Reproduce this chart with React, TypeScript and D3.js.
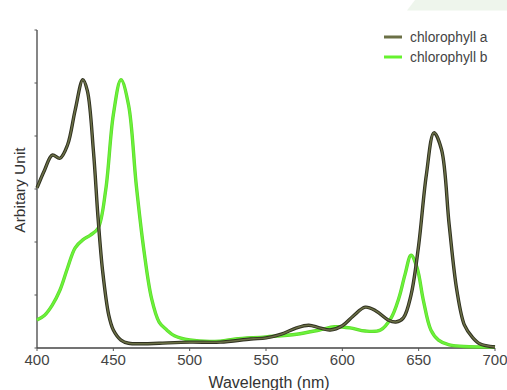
import React from "react";
import * as d3 from "d3";

const wavelengthsA = [400, 405, 410, 415, 420, 425, 430, 433, 437, 440, 443, 447, 450, 455, 460, 470, 480, 500, 520, 540, 550, 560, 570, 578, 585, 592, 600, 607, 615, 622, 630, 635, 640, 645, 650, 655, 660, 665, 670, 675, 680, 685, 690, 700];
const chlA = [3.02, 3.36, 3.64, 3.58, 3.83, 4.49, 5.06, 4.85, 3.7, 2.45, 1.45, 0.62, 0.34, 0.15, 0.09, 0.08, 0.09, 0.11, 0.11, 0.17, 0.19, 0.26, 0.38, 0.43, 0.38, 0.34, 0.42, 0.6, 0.77, 0.7, 0.53, 0.49, 0.57, 1.0, 1.94, 3.26, 4.06, 3.74, 2.32, 1.09, 0.43, 0.21, 0.08, 0.02];

const wavelengthsB = [400, 405, 410, 415, 420, 425, 430, 435, 440, 445, 450, 455, 460, 465, 470, 475, 480, 485, 490, 500, 520, 530, 550, 570, 585, 595, 605, 615, 625, 632, 637, 641, 645, 649, 653, 658, 663, 670, 700];
const chlB = [0.53, 0.62, 0.81, 1.09, 1.51, 1.89, 2.04, 2.13, 2.26, 2.98, 4.4, 5.06, 4.58, 3.08, 1.85, 0.94, 0.49, 0.34, 0.23, 0.15, 0.13, 0.17, 0.21, 0.26, 0.34, 0.4, 0.38, 0.32, 0.34, 0.57, 0.94, 1.38, 1.75, 1.51, 0.91, 0.34, 0.15, 0.06, 0.02];

const xTicks = [400, 450, 500, 550, 600, 650, 700];
const yTicks = [0, 1, 2, 3, 4, 5, 6];
const seriesNames = ["chlorophyll a", "chlorophyll b"];

export default function App() {
  const W = 507, H = 390;
  const x = d3.scaleLinear().domain([400, 700]).range([37, 495]);
  const y = d3.scaleLinear().domain([0, 6]).range([348, 30]);
  const lineGen = d3.line<[number, number]>().x(d => x(d[0])).y(d => y(d[1])).curve(d3.curveCatmullRom.alpha(0.5));
  const pathA = lineGen(wavelengthsA.map((w, i) => [w, chlA[i]] as [number, number])) || "";
  const pathB = lineGen(wavelengthsB.map((w, i) => [w, chlB[i]] as [number, number])) || "";
  const font = "Helvetica, Arial, 'Liberation Sans', sans-serif";
  return (
    <svg width={W} height={H} style={{ position: "fixed", left: 0, top: 0, background: "#fff" }} fontFamily={font}>
      <rect x={0} y={0} width={W} height={H} fill="#fff" />
      <polygon points="415,0 507,0 507,10.5 407,10.5" fill="#eef5ec" />
      {/* axes */}
      <line x1={x(400)} x2={x(400)} y1={y(6)} y2={y(0)} stroke="#444" strokeWidth={1.3} />
      <line x1={x(400)} x2={x(700)} y1={y(0)} y2={y(0)} stroke="#444" strokeWidth={1.3} />
      {yTicks.map(t => (
        <line key={"yt" + t} x1={x(400) - 2.5} x2={x(400)} y1={y(t)} y2={y(t)} stroke="#555" strokeWidth={1} />
      ))}
      {xTicks.map(t => (
        <g key={"xt" + t}>
          <line x1={x(t)} x2={x(t)} y1={y(0)} y2={y(0) + 3} stroke="#555" strokeWidth={1} />
          <text x={x(t)} y={365} textAnchor="middle" fontSize={15} fill="#444">{t}</text>
        </g>
      ))}
      <text x={269} y={388} textAnchor="middle" fontSize={16} fill="#333">Wavelength (nm)</text>
      <text transform={`translate(25,190) rotate(-90)`} textAnchor="middle" fontSize={15.5} fill="#333">Arbitary Unit</text>
      {/* curves */}
      <path d={pathB} fill="none" stroke="#5ed82a" strokeWidth={3.4} />
      <path d={pathB} fill="none" stroke="#6af23a" strokeWidth={2} />
      <path d={pathA} fill="none" stroke="#2f3020" strokeWidth={3.4} />
      <path d={pathA} fill="none" stroke="#6b7046" strokeWidth={1.5} />
      {/* legend */}
      <line x1={384} x2={402} y1={37} y2={37} stroke="#6b7046" strokeWidth={3} />
      <line x1={384} x2={402} y1={57} y2={57} stroke="#66f22e" strokeWidth={3} />
      <text x={410} y={42} fontSize={13.8} fill="#444">{seriesNames[0]}</text>
      <text x={410} y={62} fontSize={13.8} fill="#444">{seriesNames[1]}</text>
    </svg>
  );
}
